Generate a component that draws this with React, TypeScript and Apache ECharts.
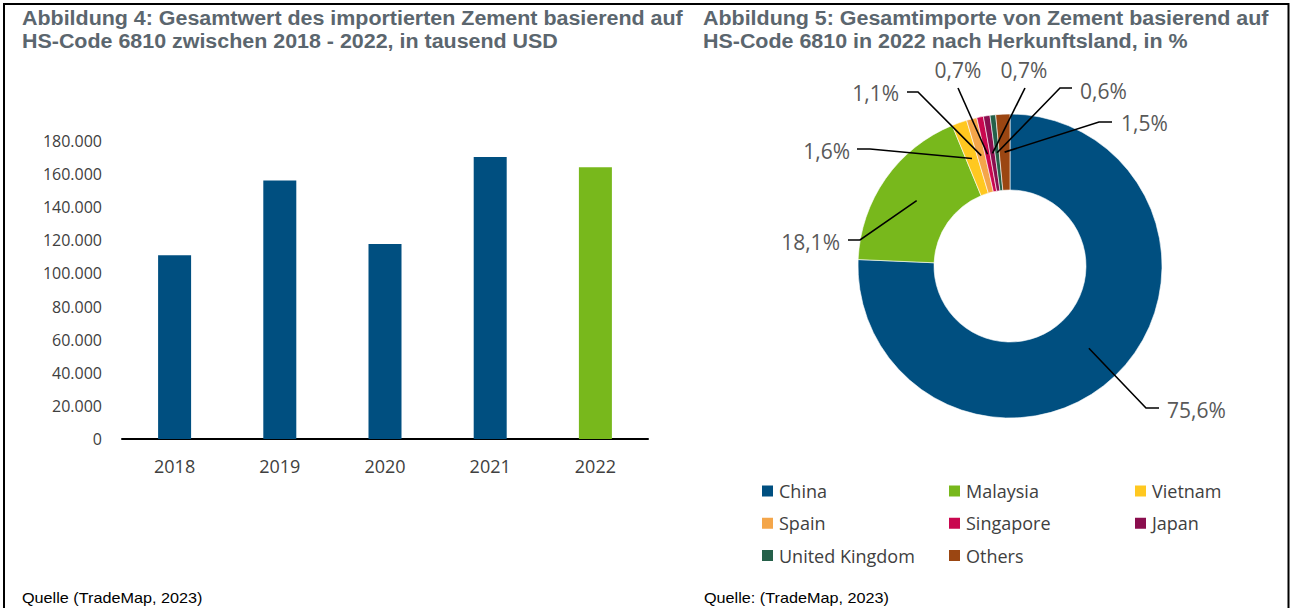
import React, { useEffect, useRef } from "react";
import * as echarts from "echarts";

// ---- data ----
const YEARS = ["2018", "2019", "2020", "2021", "2022"];
const IMPORT_VALUES = [111000, 156200, 117800, 170300, 164200];
const Y_TICK_STEP = 20000;
const Y_MAX = 180000;

const COUNTRIES = ["China", "Malaysia", "Vietnam", "Spain", "Singapore", "Japan", "United Kingdom", "Others"];
const SHARES = [75.6, 18.1, 1.6, 1.1, 0.7, 0.7, 0.6, 1.5];

const TITLE_LEFT = ["Abbildung 4: Gesamtwert des importierten Zement basierend auf", "HS-Code 6810 zwischen 2018 - 2022, in tausend USD"];
const TITLE_RIGHT = ["Abbildung 5: Gesamtimporte von Zement basierend auf", "HS-Code 6810 in 2022 nach Herkunftsland, in %"];
const SOURCE_LEFT = "Quelle (TradeMap, 2023)";
const SOURCE_RIGHT = "Quelle: (TradeMap, 2023)";

// ---- styles / layout ----
const BLUE = "#004f80";
const GREEN = "#78b81c";
const SLICE_COLORS = ["#004f80", "#78b81c", "#ffc820", "#f4a64a", "#c9074f", "#8a0e4e", "#256049", "#9b4612"];
const PIE_CENTER = [1010, 266];
const PIE_RADIUS = [76, 152];
const LINE_START_R = 114;
const LABEL_LAYOUT = [
  { x: 1167, y: 410, align: "left", bend: [1146, 408], end: [1159, 408] },
  { x: 840, y: 242, align: "right", bend: [860, 240], end: [848, 240] },
  { x: 850, y: 151, align: "right", bend: [870, 149], end: [857, 149] },
  { x: 899, y: 93, align: "right", bend: [918, 92], end: [907, 92] },
  { x: 958, y: 70, align: "center", bend: [958, 88], end: [958, 88] },
  { x: 1024, y: 70, align: "center", bend: [1025, 88], end: [1025, 88] },
  { x: 1080, y: 91, align: "left", bend: [1060, 88], end: [1072, 88] },
  { x: 1121, y: 123, align: "left", bend: [1099, 122], end: [1112, 122] },
];
const LEGEND_COLUMNS = [
  { left: 760, names: ["China", "Spain", "United Kingdom"] },
  { left: 947, names: ["Malaysia", "Singapore", "Others"] },
  { left: 1133, names: ["Vietnam", "Japan"] },
];

const fmtThousands = (v: number) => String(v).replace(/\B(?=(\d{3})+(?!\d))/g, ".");
const fmtPct = (v: number) => v.toFixed(1).replace(".", ",") + "%";

export default function App() {
  const ref = useRef<HTMLDivElement>(null);

  useEffect(() => {
    if (!ref.current) return;
    const chart = echarts.init(ref.current, undefined, { renderer: "svg" });
    const total = SHARES.reduce((a, b) => a + b, 0);
    const startPoint = (idx: number) => {
      let cum = 0;
      for (let i = 0; i < idx; i++) cum += SHARES[i];
      const frac = (cum + SHARES[idx] / 2) / total;
      const a = frac * Math.PI * 2;
      return [PIE_CENTER[0] + LINE_START_R * Math.sin(a), PIE_CENTER[1] - LINE_START_R * Math.cos(a)];
    };

    const titleText = (lines: string[], x: number) =>
      lines.map((t, i) => ({
        type: "text",
        x,
        y: 18 + i * 23,
        scaleX: 1.072,
        silent: true,
        style: {
          text: t,
          fontFamily: "Liberation Sans, Arial, sans-serif",
          fontWeight: "bold",
          fontSize: 20,
          fill: "#5b666e",
          verticalAlign: "middle",
        },
      }));

    const sourceText = (t: string, x: number) => ({
      type: "text",
      x,
      y: 598,
      scaleX: 1.08,
      silent: true,
      style: { text: t, fontFamily: "Liberation Sans, Arial", fontSize: 15, fill: "#000", verticalAlign: "middle" },
    });

    const leaderLines = SHARES.map((_, i) => ({
      type: "polyline",
      silent: true,
      z: 10,
      shape: { points: [startPoint(i), LABEL_LAYOUT[i].bend, LABEL_LAYOUT[i].end] },
      style: { stroke: "#000", lineWidth: 1.6, fill: "none" },
    }));

    chart.setOption({
      animation: false,
      backgroundColor: "#ffffff",
      grid: { left: 122, right: 643, top: 141, bottom: 169 },
      xAxis: {
        type: "category",
        data: YEARS,
        axisLine: { lineStyle: { color: "#000", width: 2 } },
        axisTick: { show: false },
        axisLabel: { margin: 18, fontFamily: "Open Sans", fontSize: 18, color: "#404040" },
      },
      yAxis: {
        type: "value",
        min: 0,
        max: Y_MAX,
        interval: Y_TICK_STEP,
        axisLine: { show: false },
        axisTick: { show: false },
        splitLine: { show: false },
        axisLabel: {
          margin: 20,
          fontFamily: "Open Sans",
          fontSize: 16,
          color: "#404040",
          formatter: (v: number) => fmtThousands(v),
        },
      },
      legend: LEGEND_COLUMNS.map((c) => ({
        orient: "vertical",
        left: c.left,
        top: 481,
        padding: 0,
        itemWidth: 13,
        itemHeight: 13,
        itemGap: 12.3,
        icon: "rect",
        data: c.names,
        selectedMode: false,
        textStyle: { fontFamily: "Open Sans", fontSize: 18, lineHeight: 20, color: "#404040" },
      })),
      series: [
        {
          type: "bar",
          barWidth: 33,
          data: IMPORT_VALUES.map((v, i) => ({
            value: v,
            itemStyle: { color: i === IMPORT_VALUES.length - 1 ? GREEN : BLUE },
          })),
        },
        {
          type: "pie",
          center: PIE_CENTER,
          radius: PIE_RADIUS,
          startAngle: 90,
          clockwise: true,
          avoidLabelOverlap: false,
          itemStyle: { borderColor: "#ffffff", borderWidth: 0.6 },
          data: COUNTRIES.map((name, i) => ({
            name,
            value: SHARES[i],
            itemStyle: { color: SLICE_COLORS[i] },
          })),
          label: {
            show: true,
            position: "outside",
            fontFamily: "Open Sans",
            fontSize: 21,
            color: "#595959",
            formatter: (p: any) => fmtPct(p.value),
          },
          labelLine: { show: false },
          labelLayout: (params: any) => {
            const L = LABEL_LAYOUT[params.dataIndex];
            return { x: L.x, y: L.y, align: L.align, verticalAlign: "middle" };
          },
          emphasis: { disabled: true },
        },
      ],
      graphic: [
        { type: "line", silent: true, shape: { x1: 3, y1: 4, x2: 1289, y2: 4 }, style: { stroke: "#000", lineWidth: 2 } },
        { type: "line", silent: true, shape: { x1: 4, y1: 3, x2: 4, y2: 608 }, style: { stroke: "#000", lineWidth: 2 } },
        { type: "line", silent: true, shape: { x1: 1288.5, y1: 3, x2: 1288.5, y2: 608 }, style: { stroke: "#000", lineWidth: 2 } },
        ...titleText(TITLE_LEFT, 22),
        ...titleText(TITLE_RIGHT, 703),
        sourceText(SOURCE_LEFT, 22),
        sourceText(SOURCE_RIGHT, 704),
        ...leaderLines,
      ],
    });
    return () => chart.dispose();
  }, []);

  return <div ref={ref} style={{ position: "fixed", left: 0, top: 0, width: 1291, height: 608 }} />;
}
